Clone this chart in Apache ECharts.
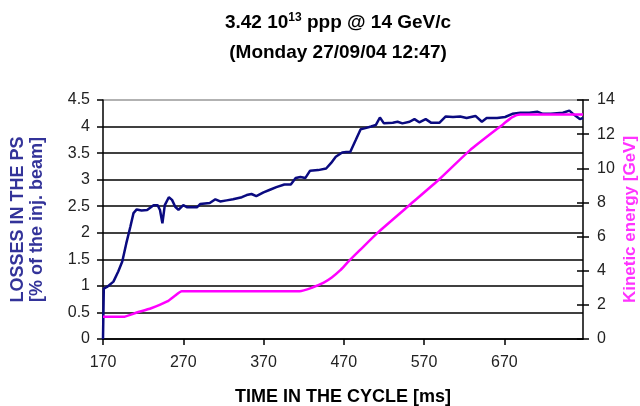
<!DOCTYPE html>
<html>
<head>
<meta charset="utf-8">
<script src="https://cdn.jsdelivr.net/npm/echarts@6/dist/echarts.min.js"></script>
<style>html,body{margin:0;padding:0;background:#fff}#c{width:640px;height:406px}</style>
</head>
<body>
<div id="c"></div>
<script>
// ---- data ----
const lossTime = [170,171,175,183,189,194,199,204,208,212,218,225,233,238,241,244,247,252,256,260,264,270,275,287,291,303,310,316,324,332,343,349,355,361,370,378,386,396,404,410,416,422,428,438,448,454,460,468,473,478,485,491,497,504,510,515,520,531,537,543,552,558,564,572,579,589,597,606,615,623,634,642,648,661,671,680,690,701,711,718,728,743,751,757,764,768];
const lossValue = [0,0.95,0.98,1.08,1.27,1.46,1.80,2.11,2.37,2.44,2.42,2.43,2.52,2.52,2.43,2.18,2.52,2.67,2.62,2.49,2.43,2.52,2.48,2.48,2.54,2.56,2.63,2.59,2.61,2.63,2.67,2.71,2.73,2.69,2.76,2.81,2.86,2.91,2.91,3.03,3.05,3.03,3.17,3.18,3.21,3.31,3.43,3.51,3.52,3.52,3.75,3.95,3.97,4.00,4.03,4.17,4.06,4.07,4.09,4.06,4.09,4.14,4.08,4.14,4.07,4.07,4.19,4.18,4.19,4.16,4.20,4.09,4.16,4.16,4.18,4.24,4.26,4.26,4.28,4.24,4.24,4.26,4.30,4.22,4.14,4.16];
const energyTime = [170,180,195,212,230,250,260,268,300,350,400,415,430,445,455,465,475,490,514,552,590,627,669,680,690,720,768];
const energyValue = [1.3,1.3,1.3,1.55,1.8,2.2,2.55,2.8,2.8,2.8,2.8,2.8,3.0,3.3,3.6,4.0,4.5,5.2,6.3,7.85,9.4,11.05,12.6,13.0,13.15,13.15,13.15];
const xTicks = [170,270,370,470,570,670];
const leftTicks = [0,0.5,1,1.5,2,2.5,3,3.5,4,4.5];
const rightTicks = [0,2,4,6,8,10,12,14];
const titleLine1 = '3.42 10{sup|13} ppp @ 14 GeV/c';
const titleLine2 = '(Monday 27/09/04 12:47)';
const xName = 'TIME IN THE CYCLE [ms]';
const leftName = 'LOSSES IN THE PS\n[% of the inj. beam]';
const rightName = 'Kinetic energy [GeV]';

const FONT = 'Liberation Sans, Arial, sans-serif';
const chart = echarts.init(document.getElementById('c'), null, {renderer:'canvas'});
const gridColors = leftTicks.map((v,i)=> i===leftTicks.length-1 ? '#999' : '#000');

chart.setOption({
  animation:false,
  backgroundColor:'#fff',
  textStyle:{fontFamily:FONT},
  title:[{
    text: titleLine1 + '\n' + titleLine2,
    left: 333, top: 3, textAlign:'center',
    textStyle:{fontFamily:FONT,fontSize:19,fontWeight:'bold',color:'#000',lineHeight:30,
      rich:{sup:{fontFamily:FONT,fontSize:12,fontWeight:'bold',color:'#000',padding:[0,0,10,0]}}}
  }],
  grid:{left:103,right:57,top:100,bottom:67,containLabel:false,outerBoundsMode:'none'},
  xAxis:{
    type:'value', min:xTicks[0], max:768, interval:100,
    name:xName, nameLocation:'middle', nameGap:49, nameMoveOverlap:false,
    nameTextStyle:{fontFamily:FONT,fontSize:18,fontWeight:'bold',color:'#000'},
    axisLine:{lineStyle:{color:'#000',width:1.5}},
    axisTick:{show:true,length:6,lineStyle:{color:'#000',width:1.5}},
    axisLabel:{fontFamily:FONT,fontSize:16,color:'#222',margin:16,showMaxLabel:false,
      formatter:v=> xTicks.indexOf(v)>=0 ? String(v) : ''},
    splitLine:{show:false}
  },
  yAxis:[{
    type:'value', min:0, max:4.5, interval:0.5, position:'left',
    name:leftName, nameLocation:'middle', nameGap:56, nameRotate:90, nameMoveOverlap:false,
    nameTextStyle:{fontFamily:FONT,fontSize:18,fontWeight:'bold',color:'#333399',lineHeight:19},
    axisLine:{show:true,lineStyle:{color:'#000',width:1.5}},
    axisTick:{show:true,length:6,lineStyle:{color:'#000',width:1.5}},
    axisLabel:{fontFamily:FONT,fontSize:16,color:'#222',margin:13,
      formatter:v=>String(v)},
    splitLine:{show:true,lineStyle:{color:gridColors,width:1.5}}
  },{
    type:'value', min:0, max:14, interval:2, position:'right',
    name:rightName, nameLocation:'middle', nameGap:39, nameRotate:90, nameMoveOverlap:false,
    nameTextStyle:{fontFamily:FONT,fontSize:17,fontWeight:'bold',color:'#ff33ff'},
    axisLine:{show:true,lineStyle:{color:'#000',width:1.5}},
    axisTick:{show:true,length:6,lineStyle:{color:'#000',width:1.5}},
    axisLabel:{fontFamily:FONT,fontSize:16,color:'#222',margin:14},
    splitLine:{show:false}
  },{
    type:'value', min:0, max:14, interval:2, position:'right',
    axisLine:{show:false},
    axisTick:{show:true,inside:true,length:6,lineStyle:{color:'#000',width:1.5}},
    axisLabel:{show:false},
    splitLine:{show:false}
  }],
  series:[{
    type:'line', yAxisIndex:1, showSymbol:false, smooth:0.2,
    data: energyTime.map((t,i)=>[t,energyValue[i]]),
    lineStyle:{color:'#ff00ff',width:2.5}, z:3
  },{
    type:'line', yAxisIndex:0, showSymbol:false,
    data: lossTime.map((t,i)=>[t,lossValue[i]]),
    lineStyle:{color:'#0a0a80',width:2.5}, z:2
  }]
});
</script>
</body>
</html>
